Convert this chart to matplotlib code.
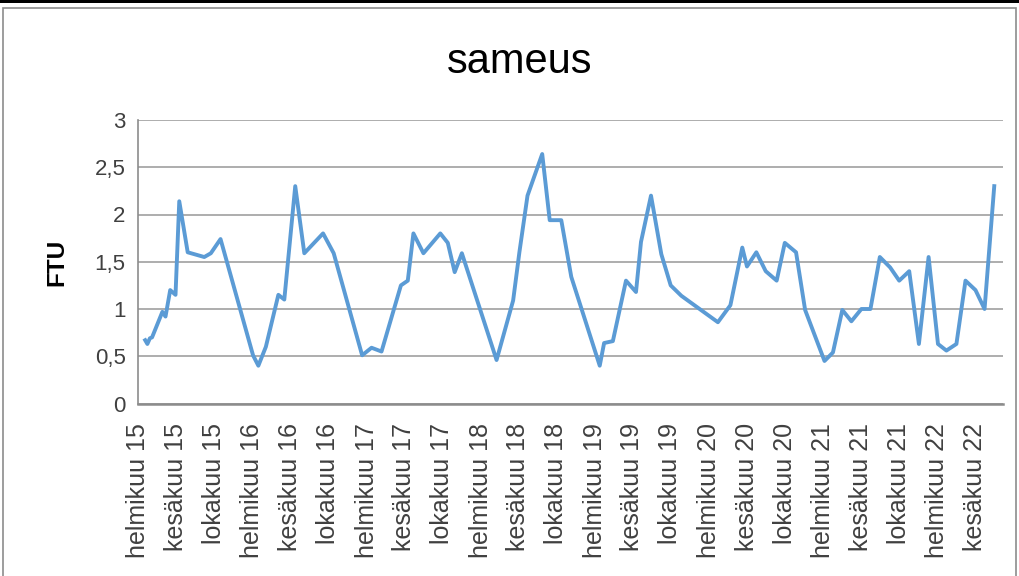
import matplotlib
matplotlib.use("Agg")
import matplotlib.pyplot as plt
from matplotlib.patches import Rectangle
import pandas as pd

title = "sameus"
y_label = "FTU"

dates = ["2015-02-24","2015-03-03","2015-03-11","2015-03-18","2015-04-20","2015-04-30","2015-05-15","2015-06-01",
         "2015-06-13","2015-07-10","2015-09-01","2015-09-22","2015-10-23","2016-02-04","2016-02-21","2016-03-16",
         "2016-04-25","2016-05-14","2016-06-18","2016-07-17","2016-09-15","2016-10-19","2017-01-18","2017-02-17",
         "2017-03-21","2017-05-22","2017-06-13","2017-07-01","2017-08-02","2017-09-25","2017-10-19","2017-11-10",
         "2017-12-03","2018-03-24","2018-05-16","2018-06-05","2018-07-01","2018-08-17","2018-09-10","2018-10-17",
         "2018-11-18","2019-02-17","2019-03-03","2019-03-31","2019-05-12","2019-06-13","2019-06-29","2019-07-31",
         "2019-09-02","2019-10-02","2019-11-05","2020-03-01","2020-04-10","2020-05-18","2020-06-02","2020-07-02",
         "2020-08-01","2020-09-05","2020-10-01","2020-11-06","2020-12-05","2021-02-05","2021-03-04","2021-04-03",
         "2021-05-02","2021-06-03","2021-07-02","2021-08-01","2021-09-03","2021-10-02","2021-11-03","2021-12-04",
         "2022-01-04","2022-02-03","2022-03-02","2022-04-03","2022-05-02","2022-06-03","2022-07-02","2022-08-02"]

values = [0.67,0.63,0.69,0.70,0.97,0.92,1.20,1.15,2.14,1.60,
          1.55,1.59,1.74,0.51,0.40,0.60,1.15,1.10,2.30,1.59,
          1.80,1.59,0.51,0.59,0.55,1.25,1.30,1.80,1.59,1.80,
          1.70,1.39,1.59,0.46,1.09,1.60,2.20,2.64,1.94,1.94,
          1.34,0.40,0.64,0.66,1.30,1.18,1.71,2.20,1.58,1.25,
          1.14,0.86,1.04,1.65,1.45,1.60,1.40,1.30,1.70,1.60,
          0.99,0.45,0.54,0.99,0.87,1.00,1.00,1.55,1.44,1.30,
          1.40,0.63,1.55,0.63,0.56,0.63,1.30,1.20,1.00,2.30]

tick_dates = ["2015-02-01","2015-06-01","2015-10-01","2016-02-01","2016-06-01","2016-10-01",
              "2017-02-01","2017-06-01","2017-10-01","2018-02-01","2018-06-01","2018-10-01",
              "2019-02-01","2019-06-01","2019-10-01","2020-02-01","2020-06-01","2020-10-01",
              "2021-02-01","2021-06-01","2021-10-01","2022-02-01","2022-06-01"]
tick_labels = ["helmikuu 15","kesäkuu 15","lokakuu 15","helmikuu 16","kesäkuu 16","lokakuu 16",
               "helmikuu 17","kesäkuu 17","lokakuu 17","helmikuu 18","kesäkuu 18","lokakuu 18",
               "helmikuu 19","kesäkuu 19","lokakuu 19","helmikuu 20","kesäkuu 20","lokakuu 20",
               "helmikuu 21","kesäkuu 21","lokakuu 21","helmikuu 22","kesäkuu 22"]
y_ticks = [0, 0.5, 1, 1.5, 2, 2.5, 3]
y_tick_labels = ["0", "0,5", "1", "1,5", "2", "2,5", "3"]

plt.rcParams['font.family'] = ['Liberation Sans', 'DejaVu Sans']

W, H = 1019, 576
fig = plt.figure(figsize=(W/100, H/100), dpi=100)
fig.patch.set_facecolor("white")

# chart frame decorations
fig.add_artist(Rectangle((0, 1 - 3/H), 1, 3/H, transform=fig.transFigure, color="black", lw=0))
fig.add_artist(Rectangle((3/W, -0.05), (1016-3)/W, 1 - 8/H + 0.05, transform=fig.transFigure,
                         fill=False, edgecolor="#8c8c8c", lw=1.2))

left, right, top, bottom = 138, 1003, 120, 403.5
ax = fig.add_axes([left/W, 1 - bottom/H, (right-left)/W, (bottom-top)/H])

x = pd.to_datetime(dates)
ax.plot(x, values, color="#5B9BD5", lw=2.8, solid_joinstyle="round", zorder=3)

ax.set_xlim(pd.Timestamp("2015-02-01"), pd.Timestamp("2022-08-30"))
ax.set_ylim(0, 3)
ax.set_yticks(y_ticks)
ax.set_yticklabels(y_tick_labels, fontsize=16, color="#404040")
ax.set_xticks(pd.to_datetime(tick_dates))
ax.set_xticklabels(tick_labels, rotation=90, fontsize=18, color="#404040", va="top", ha="center")
ax.tick_params(axis="x", length=0, pad=14)
ax.tick_params(axis="y", length=0, pad=9)
ax.grid(axis="y", color="#a0a0a0", lw=1.2)
ax.set_axisbelow(True)
for s in ["top", "right"]:
    ax.spines[s].set_visible(False)
ax.spines["left"].set_color("#8c8c8c")
ax.spines["left"].set_linewidth(1.2)
ax.spines["bottom"].set_color("#8c8c8c")
ax.spines["bottom"].set_linewidth(1.8)

fig.text(57/W, 1 - 262/H, y_label, fontsize=17.5, fontweight="bold", color="black",
         rotation=90, ha="center", va="center")
fig.text(520/W, 1 - 62/H, title, fontsize=30, ha="center", va="center", color="black")

fig.savefig("out.png", dpi=100)
